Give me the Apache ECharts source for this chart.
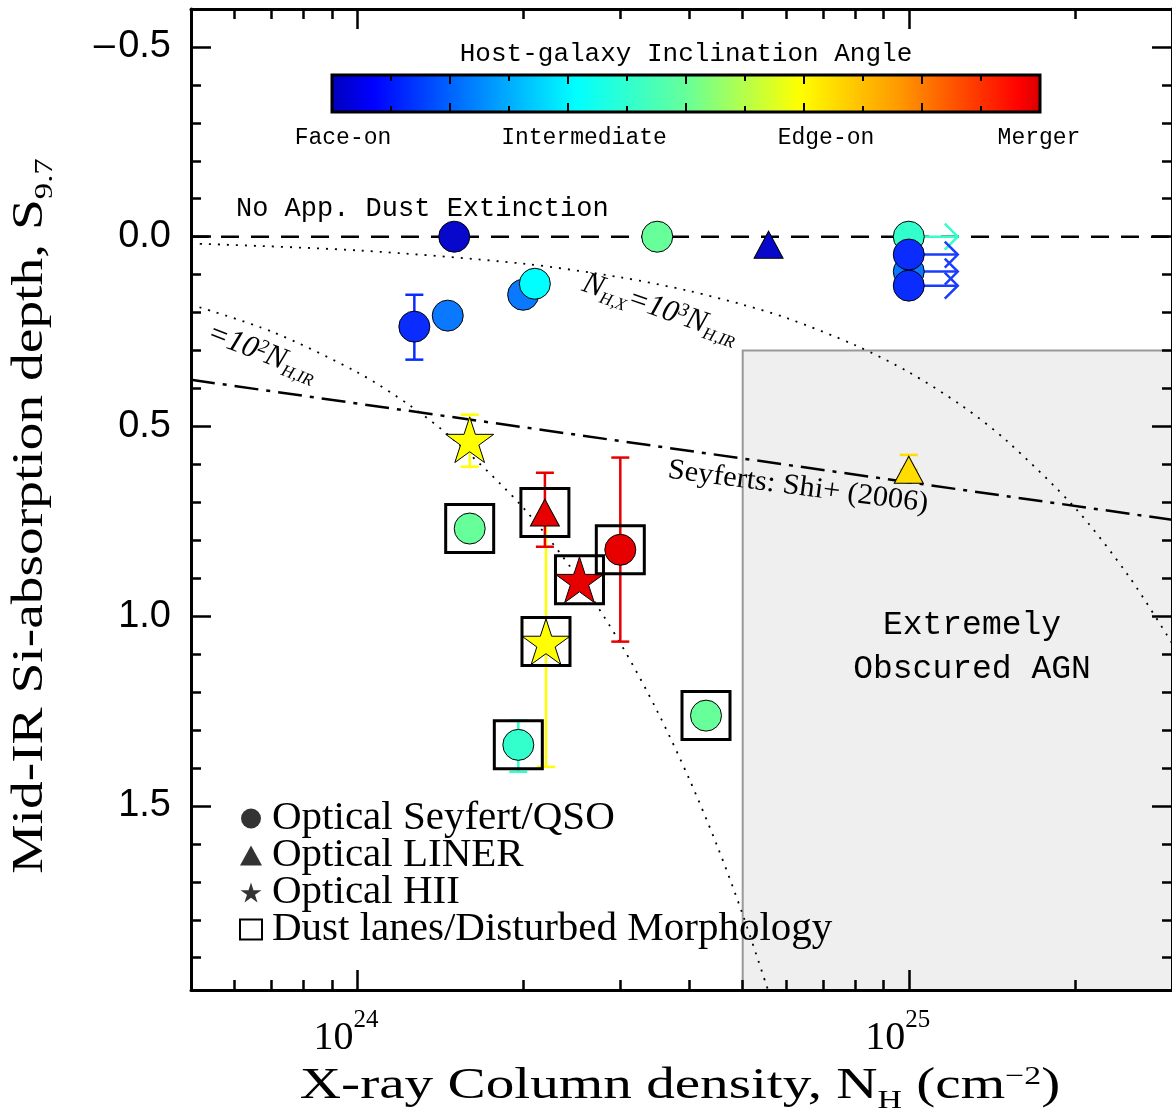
<!DOCTYPE html>
<html>
<head>
<meta charset="utf-8">
<script src="https://cdn.jsdelivr.net/npm/echarts@6.0.0/dist/echarts.min.js"></script>
<style>
html,body{margin:0;padding:0;background:#ffffff;}
#chart{width:1172px;height:1113px;}
</style>
</head>
<body>
<div id="chart"></div>
<script>
// ---------------- axis ranges & ticks ----------------
const xRange = [5e23, 3e25];
const yRange = [-0.6, 1.985];
const xMajorTicks = [1e24, 1e25];
const xMajorExp = ['24', '25'];
const xMinorTicks = [6e23, 7e23, 8e23, 9e23, 2e24, 3e24, 4e24, 5e24, 6e24, 7e24, 8e24, 9e24, 2e25];
const yMajorTicks = [-0.5, 0, 0.5, 1.0, 1.5];
const yMajorLabels = ['\u2013\u200A0.5', '0.0', '0.5', '1.0', '1.5'];
const yMinorTicks = [-0.4, -0.3, -0.2, -0.1, 0.1, 0.2, 0.3, 0.4, 0.6, 0.7, 0.8, 0.9, 1.1, 1.2, 1.3, 1.4, 1.6, 1.7, 1.8, 1.9];

// ---------------- objects (draw order) ----------------
const objNH = [1.50e24, 3.50e24, 5.57e24, 1e25, 1e25, 1e25, 1e25, 1.27e24, 1.46e24, 2.00e24, 2.10e24, 1.60e24, 1.60e24, 2.20e24, 2.19e24, 2.53e24, 3.00e24, 1.96e24, 4.29e24, 1e25];
const objS = [0.00, 0.00, 0.021, 0.00, 0.092, 0.047, 0.129, 0.237, 0.208, 0.153, 0.124, 0.535, 0.769, 1.067, 0.727, 0.904, 0.825, 1.339, 1.262, 0.614];
const objClass = ['Seyfert', 'Seyfert', 'LINER', 'Seyfert', 'Seyfert', 'Seyfert', 'Seyfert', 'Seyfert', 'Seyfert', 'Seyfert', 'Seyfert', 'HII', 'Seyfert', 'HII', 'LINER', 'HII', 'Seyfert', 'Seyfert', 'Seyfert', 'LINER'];
const objColor = ['#0808cc', '#66ff99', '#0808cc', '#33ffcc', '#0a78ff', '#0a2cff', '#0a2cff', '#0a2cff', '#0a78ff', '#0a78ff', '#00ffff', '#ffff00', '#66ff99', '#ffff00', '#e60000', '#e60000', '#e60000', '#33ffcc', '#66ff99', '#ffdd00'];
const objBoxed = [0, 0, 0, 0, 0, 0, 0, 0, 0, 0, 0, 0, 1, 1, 1, 1, 1, 1, 1, 0];
const objErrLo = [null, null, null, null, null, 0.018, null, 0.153, null, null, null, 0.469, null, 0.74, 0.622, null, 0.582, 1.275, null, 0.575];
const objErrHi = [null, null, null, null, null, 0.076, null, 0.324, null, null, null, 0.606, null, 1.397, 0.817, null, 1.067, 1.41, null, 0.614];
const objLowerLimit = [0, 0, 0, 1, 1, 1, 1, 0, 0, 0, 0, 0, 0, 0, 0, 0, 0, 0, 0, 0];

// ---------------- reference lines ----------------
const noDustNH = [5e23, 3e25];
const noDustS = [0, 0];
const shiNH = [5e23, 3e25];
const shiS = [0.377, 0.746];
const ir1000NH = [5e23, 1e24, 2e24, 3e24, 4e24, 5e24, 6e24, 8e24, 1e25, 1.25e25, 1.5e25, 2e25, 2.5e25, 3e25];
const ir1000S = [0.018, 0.036, 0.071, 0.107, 0.143, 0.179, 0.214, 0.286, 0.357, 0.446, 0.536, 0.714, 0.893, 1.071];
const ir100NH = [5e23, 7e23, 1e24, 1.25e24, 1.5e24, 2e24, 2.5e24, 3e24, 3.5e24, 4e24, 4.5e24, 5e24, 5.6e24];
const ir100S = [0.179, 0.25, 0.357, 0.446, 0.536, 0.714, 0.893, 1.071, 1.25, 1.429, 1.607, 1.786, 2.0];
const obscuredNH = [5e24, 3e25];
const obscuredS = [0.3, 1.985];

// ---------------- colour bar ----------------
const cbarStops = [0, 0.06, 0.2, 0.345, 0.5, 0.66, 0.8, 0.97, 1.0];
const cbarColors = ['#0000bb', '#0000ff', '#0080ff', '#00ffff', '#66ff99', '#ffff00', '#ff9900', '#ff0000', '#d40000'];
const cbarLabels = ['Face-on', 'Intermediate', 'Edge-on', 'Merger'];
const cbarLabelX = [343, 584, 826, 1039];

const FONT_SERIF = '"Liberation Serif", "Times New Roman", serif';
const FONT_MONO = '"Liberation Mono", "Courier New", monospace';
const FONT_SANS = '"Liberation Sans", Arial, sans-serif';

// star symbol path (shape only)
function starPath() {
  const pts = [];
  for (let k = 0; k < 10; k++) {
    const r = (k % 2 === 0) ? 50 : 19.1;
    const a = -Math.PI / 2 + k * Math.PI / 5;
    pts.push((50 + r * Math.cos(a)).toFixed(2) + ' ' + (50 + r * Math.sin(a)).toFixed(2));
  }
  return 'path://M' + pts.join(' L') + ' Z';
}
const STAR = starPath();
const symbolFor = { Seyfert: 'circle', LINER: 'triangle', HII: STAR };
const sizeFor = { Seyfert: 31, LINER: [29, 27], HII: 48 };

const chart = echarts.init(document.getElementById('chart'), null, { renderer: 'canvas' });

const gridLeft = 191, gridTop = 9, gridW = 983, gridH = 981;

function xAxisDef(position, ticks, len, showLine, showLabel) {
  return {
    type: 'log', logBase: 10, min: xRange[0], max: xRange[1], position: position, z: 10,
    axisLine: { show: showLine, onZero: false, lineStyle: { color: '#000', width: 3 } },
    axisTick: { show: true, inside: true, length: len, customValues: ticks, lineStyle: { color: '#000', width: 2.5 } },
    axisLabel: showLabel ? {
      show: true, customValues: xMajorTicks, margin: 18,
      formatter: function (v) {
        let best = 0, d = 1e9;
        for (let i = 0; i < xMajorTicks.length; i++) {
          const dd = Math.abs(Math.log10(v) - Math.log10(xMajorTicks[i]));
          if (dd < d) { d = dd; best = i; }
        }
        return '{b|10}{e|' + xMajorExp[best] + '}';
      },
      rich: {
        b: { fontFamily: FONT_SERIF, fontSize: 40, color: '#000', lineHeight: 46, verticalAlign: 'top', padding: [10, 0, 0, 0] },
        e: { fontFamily: FONT_SERIF, fontSize: 25, color: '#000', lineHeight: 25, verticalAlign: 'top', padding: [0, 22, 0, 0] }
      }
    } : { show: false },
    splitLine: { show: false }, minorTick: { show: false }, minorSplitLine: { show: false }
  };
}
function yAxisDef(position, ticks, len, showLine, showLabel) {
  return {
    type: 'value', inverse: true, min: yRange[0], max: yRange[1], position: position, z: 10,
    axisLine: { show: showLine, onZero: false, lineStyle: { color: '#000', width: 3 } },
    axisTick: { show: true, inside: true, length: len, customValues: ticks, lineStyle: { color: '#000', width: 2.5 } },
    axisLabel: showLabel ? {
      show: true, customValues: yMajorTicks, margin: 20,
      fontFamily: FONT_SANS, fontSize: 38, color: '#000',
      formatter: function (v) {
        let best = 0, d = 1e9;
        for (let i = 0; i < yMajorTicks.length; i++) {
          const dd = Math.abs(v - yMajorTicks[i]);
          if (dd < d) { d = dd; best = i; }
        }
        return yMajorLabels[best];
      }
    } : { show: false },
    splitLine: { show: false }, minorTick: { show: false }, minorSplitLine: { show: false }
  };
}

// ---- data assembly ----
const markerData = objNH.map((x, i) => ({
  value: [x, objS[i]],
  symbol: symbolFor[objClass[i]],
  symbolSize: sizeFor[objClass[i]],
  itemStyle: { color: objColor[i] }
}));
const boxData = objNH.map((x, i) => [x, objS[i]]).filter((d, i) => objBoxed[i]);
const errData = [];
objNH.forEach((x, i) => {
  if (objErrLo[i] !== null) errData.push({ value: [x, objErrLo[i], objErrHi[i]], itemStyle: { color: objColor[i] } });
});
const limitData = [];
objNH.forEach((x, i) => {
  if (objLowerLimit[i]) limitData.push({ value: [x, objS[i]], itemStyle: { color: objColor[i] === '#33ffcc' ? objColor[i] : '#1a3cff' } });
});

const zip = (a, b) => a.map((v, i) => [v, b[i]]);

const colorbarGraphics = [];
colorbarGraphics.push({
  type: 'rect', shape: { x: 332, y: 75, width: 708, height: 37 },
  style: {
    fill: new echarts.graphic.LinearGradient(0, 0, 1, 0, cbarStops.map((s, i) => ({ offset: s, color: cbarColors[i] }))),
    stroke: '#000', lineWidth: 3
  }, z: 20
});
for (let i = 1; i < 12; i++) {
  const tx = 332 + i * 59;
  const L = (i % 2 === 0) ? 9 : 6;
  colorbarGraphics.push({ type: 'line', shape: { x1: tx, y1: 75, x2: tx, y2: 75 + L }, style: { stroke: '#000', lineWidth: 2 }, z: 21 });
  colorbarGraphics.push({ type: 'line', shape: { x1: tx, y1: 112, x2: tx, y2: 112 - L }, style: { stroke: '#000', lineWidth: 2 }, z: 21 });
}
cbarLabels.forEach((t, i) => {
  colorbarGraphics.push({ type: 'text', x: cbarLabelX[i], y: 138, z: 21,
    style: { text: t, font: '23px ' + FONT_MONO, fill: '#000', align: 'center', verticalAlign: 'middle' } });
});
colorbarGraphics.push({ type: 'text', x: 686, y: 54, z: 21,
  style: { text: 'Host-galaxy Inclination Angle', font: '26px ' + FONT_MONO, fill: '#000', align: 'center', verticalAlign: 'middle' } });

const textGraphics = [
  { type: 'text', x: 236, y: 209, z: 21,
    style: { text: 'No App. Dust Extinction', font: '27px ' + FONT_MONO, fill: '#000', align: 'left', verticalAlign: 'middle' } },
  { type: 'text', x: 972, y: 647, z: 21,
    style: { text: 'Extremely\nObscured AGN', font: '33px ' + FONT_MONO, fill: '#000', align: 'center', verticalAlign: 'middle', lineHeight: 44 } },
  { type: 'text', x: 660, y: 309, z: 21, rotation: -19 * Math.PI / 180,
    style: { text: '{i|N}{s|H,X}{i|=10}{p|3}{i|N}{s|H,IR}', fill: '#000', align: 'center', verticalAlign: 'middle',
      rich: {
        i: { fontFamily: FONT_SERIF, fontStyle: 'italic', fontSize: 31, lineHeight: 31, verticalAlign: 'top' },
        s: { fontFamily: FONT_SERIF, fontStyle: 'italic', fontSize: 17, lineHeight: 17, verticalAlign: 'top', padding: [16, 0, 0, 0] },
        p: { fontFamily: FONT_SERIF, fontStyle: 'italic', fontSize: 19, lineHeight: 19, verticalAlign: 'top' }
      } } },
  { type: 'text', x: 262, y: 353, z: 21, rotation: -21 * Math.PI / 180,
    style: { text: '{i|=10}{p|2}{i|N}{s|H,IR}', fill: '#000', align: 'center', verticalAlign: 'middle',
      rich: {
        i: { fontFamily: FONT_SERIF, fontStyle: 'italic', fontSize: 31, lineHeight: 31, verticalAlign: 'top' },
        s: { fontFamily: FONT_SERIF, fontStyle: 'italic', fontSize: 17, lineHeight: 17, verticalAlign: 'top', padding: [16, 0, 0, 0] },
        p: { fontFamily: FONT_SERIF, fontStyle: 'italic', fontSize: 19, lineHeight: 19, verticalAlign: 'top' }
      } } },
  { type: 'text', x: 798, y: 487, z: 21, rotation: -7.5 * Math.PI / 180, scaleX: 1.05,
    style: { text: 'Seyferts: Shi+ (2006)', font: '29px ' + FONT_SERIF, fill: '#000', align: 'center', verticalAlign: 'middle' } },
  { type: 'text', x: 30, y: 516, z: 21, rotation: Math.PI / 2, scaleX: 1.26,
    style: { text: '{m|Mid-IR Si-absorption depth, S}{s|9.7}', fill: '#000', align: 'center', verticalAlign: 'middle',
      rich: {
        m: { fontFamily: FONT_SERIF, fontSize: 44, lineHeight: 44, verticalAlign: 'top' },
        s: { fontFamily: FONT_SERIF, fontSize: 26, lineHeight: 26, verticalAlign: 'top', padding: [24, 0, 0, 0] }
      } } },
  { type: 'text', x: 680, y: 1086, z: 21, scaleX: 1.3,
    style: { text: '{m|X-ray Column density, N}{s|H}{m| (cm}{p|\u22122}{m|)}', fill: '#000', align: 'center', verticalAlign: 'middle',
      rich: {
        m: { fontFamily: FONT_SERIF, fontSize: 44, lineHeight: 44, verticalAlign: 'top' },
        s: { fontFamily: FONT_SERIF, fontSize: 26, lineHeight: 26, verticalAlign: 'top', padding: [24, 0, 0, 0] },
        p: { fontFamily: FONT_SERIF, fontSize: 26, lineHeight: 26, verticalAlign: 'top' }
      } } }
];

const option = {
  animation: false,
  backgroundColor: '#ffffff',
  grid: { left: gridLeft, top: gridTop, width: gridW, height: gridH, containLabel: false },
  xAxis: [
    xAxisDef('bottom', xMajorTicks, 20, true, true),
    xAxisDef('bottom', xMinorTicks, 10, false, false),
    xAxisDef('top', xMajorTicks, 20, true, false),
    xAxisDef('top', xMinorTicks, 10, false, false)
  ],
  yAxis: [
    yAxisDef('left', yMajorTicks, 20, true, true),
    yAxisDef('left', yMinorTicks, 10, false, false),
    yAxisDef('right', yMajorTicks, 20, true, false),
    yAxisDef('right', yMinorTicks, 10, false, false)
  ],
  legend: {
    orient: 'vertical', left: 234, top: 793, itemWidth: 22, itemHeight: 20, itemGap: -4,
    selectedMode: false,
    textStyle: { fontFamily: FONT_SERIF, fontSize: 41, color: '#000', padding: [0, 0, 0, 5] },
    data: [
      { name: 'Optical Seyfert/QSO', icon: 'circle' },
      { name: 'Optical LINER', icon: 'triangle' },
      { name: 'Optical HII', icon: STAR },
      { name: 'Dust lanes/Disturbed Morphology', icon: 'rect', itemStyle: { color: '#ffffff', borderColor: '#000', borderWidth: 2 } }
    ]
  },
  graphic: { elements: colorbarGraphics.concat(textGraphics) },
  series: [
    {
      name: 'Extremely Obscured AGN', type: 'custom', z: 1, silent: true,
      renderItem: function (params, api) {
        const p0 = api.coord([api.value(0), api.value(1)]);
        const p1 = api.coord([api.value(2), api.value(3)]);
        return { type: 'rect', shape: { x: p0[0], y: p0[1], width: p1[0] - p0[0] + 10, height: p1[1] - p0[1] },
          style: { fill: '#efefef', stroke: '#999999', lineWidth: 2 } };
      },
      data: [[obscuredNH[0], obscuredS[0], obscuredNH[1], obscuredS[1]]]
    },
    { name: 'No dust', type: 'line', z: 2, silent: true, symbol: 'none', data: zip(noDustNH, noDustS),
      lineStyle: { color: '#000', width: 2.5, type: [18, 12] } },
    { name: 'Shi', type: 'line', z: 2, silent: true, symbol: 'none', data: zip(shiNH, shiS),
      lineStyle: { color: '#000', width: 2.5, type: [24, 8, 4, 8] } },
    { name: 'ir1000', type: 'line', z: 2, silent: true, symbol: 'none', smooth: 0.3, data: zip(ir1000NH, ir1000S),
      lineStyle: { color: '#000', width: 1.8, type: [2, 7] } },
    { name: 'ir100', type: 'line', z: 2, silent: true, symbol: 'none', smooth: 0.3, data: zip(ir100NH, ir100S),
      lineStyle: { color: '#000', width: 1.8, type: [2, 7] } },
    {
      name: 'errors', type: 'custom', z: 3, silent: true,
      renderItem: function (params, api) {
        const x = api.value(0);
        const a = api.coord([x, api.value(1)]);
        const b = api.coord([x, api.value(2)]);
        const c = api.visual('color');
        const st = { stroke: c, lineWidth: 2.5 };
        return { type: 'group', children: [
          { type: 'line', shape: { x1: a[0], y1: a[1], x2: b[0], y2: b[1] }, style: st },
          { type: 'line', shape: { x1: a[0] - 9, y1: a[1], x2: a[0] + 9, y2: a[1] }, style: st },
          { type: 'line', shape: { x1: b[0] - 9, y1: b[1], x2: b[0] + 9, y2: b[1] }, style: st }
        ] };
      },
      encode: { x: 0, y: [1, 2] },
      data: errData
    },
    {
      name: 'limits', type: 'custom', z: 3, silent: true,
      renderItem: function (params, api) {
        const p = api.coord([api.value(0), api.value(1)]);
        const c = api.visual('color');
        const tip = p[0] + 49;
        const st = { stroke: c, lineWidth: 2.5, fill: 'none' };
        return { type: 'group', children: [
          { type: 'line', shape: { x1: p[0], y1: p[1], x2: tip, y2: p[1] }, style: st },
          { type: 'polyline', shape: { points: [[tip - 13, p[1] - 13], [tip, p[1]], [tip - 13, p[1] + 13]] }, style: st }
        ] };
      },
      encode: { x: 0, y: 1 },
      data: limitData
    },
    { name: 'markers', type: 'scatter', z: 4, silent: true, data: markerData,
      itemStyle: { borderColor: '#000', borderWidth: 1, opacity: 1 }, symbolKeepAspect: true },
    { name: 'Dust lanes/Disturbed Morphology', type: 'scatter', z: 5, silent: true, data: boxData,
      symbol: 'rect', symbolSize: 48,
      itemStyle: { color: 'rgba(255,255,255,0)', borderColor: '#000', borderWidth: 3, opacity: 1 } },
    { name: 'Optical Seyfert/QSO', type: 'scatter', data: [], symbol: 'circle', itemStyle: { color: '#000' } },
    { name: 'Optical LINER', type: 'scatter', data: [], symbol: 'triangle', itemStyle: { color: '#000' } },
    { name: 'Optical HII', type: 'scatter', data: [], symbol: STAR, itemStyle: { color: '#000' } }
  ]
};
chart.setOption(option);
</script>
</body>
</html>
